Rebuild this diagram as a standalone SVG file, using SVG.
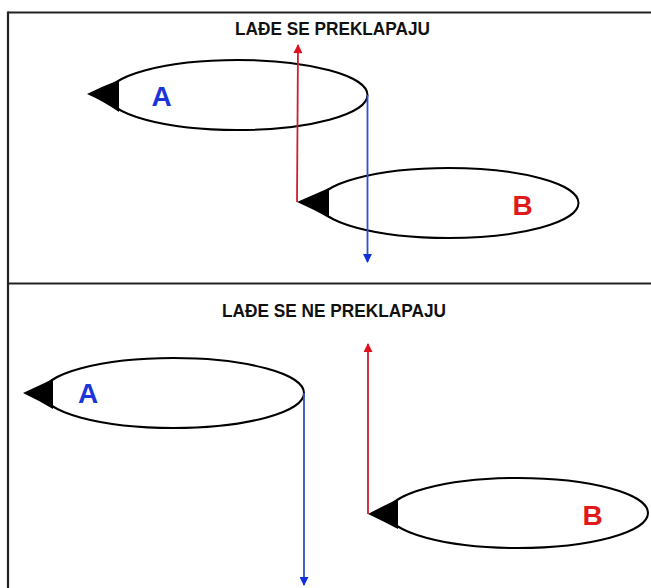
<svg xmlns="http://www.w3.org/2000/svg" width="651" height="588" viewBox="0 0 651 588">
<style>
.frame{stroke:#222;stroke-width:2.2;fill:none}
.hull{fill:#fff;stroke:#000;stroke-width:2}
.bow{fill:#000;stroke:none}
.title{font-family:"Liberation Sans",Arial,sans-serif;font-weight:bold;font-size:18px;fill:#111;text-anchor:middle}
.lbl{font-family:"Liberation Sans",Arial,sans-serif;font-weight:bold;font-size:28px;text-anchor:middle}
.red{stroke:#cc2030;stroke-width:1.8;fill:none}
.blue{stroke:#3050d0;stroke-width:1.8;fill:none}
</style>
<defs>
<marker id="ah-red" viewBox="0 0 10 10" refX="9" refY="5" markerWidth="10" markerHeight="9" markerUnits="userSpaceOnUse" orient="auto"><path d="M0,0 L10,5 L0,10 Z" fill="#e01020"/></marker>
<marker id="ah-blue" viewBox="0 0 10 10" refX="9" refY="5" markerWidth="10" markerHeight="9" markerUnits="userSpaceOnUse" orient="auto"><path d="M0,0 L10,5 L0,10 Z" fill="#1030e0"/></marker>
</defs>
<rect width="651" height="588" fill="#fff"/>
<g id="frame">
<line class="frame" x1="8" y1="12.5" x2="651" y2="12.5"/>
<line class="frame" x1="8" y1="283.5" x2="651" y2="283.5"/>
<line class="frame" x1="8" y1="11.5" x2="8" y2="588"/>
</g>
<text class="title" x="332.5" y="35" textLength="195" lengthAdjust="spacingAndGlyphs">LAĐE SE PREKLAPAJU</text>
<text class="title" x="334" y="317" textLength="224" lengthAdjust="spacingAndGlyphs">LAĐE SE NE PREKLAPAJU</text>
<g id="shipA1">
<ellipse class="hull" cx="237.5" cy="95" rx="130" ry="35"/>
<path class="bow" d="M87,94 Q103,86 119,80 L119,112 Q103,101 87,94 Z"/>
<text class="lbl" x="161.5" y="106" fill="#1a35d8">A</text>
</g>
<g id="shipB1">
<ellipse class="hull" cx="448.5" cy="203" rx="130" ry="35"/>
<path class="bow" d="M297,202 Q313,195 329,188 L329,218 Q313,209 297,202 Z"/>
<text class="lbl" x="522.5" y="215" fill="#e01a1a">B</text>
</g>
<g id="shipA2">
<ellipse class="hull" cx="173.5" cy="393" rx="130.5" ry="35"/>
<path class="bow" d="M23,393 Q38,386 53,379 L53,409 Q38,400 23,393 Z"/>
<text class="lbl" x="88" y="403" fill="#1a35d8">A</text>
</g>
<g id="shipB2">
<ellipse class="hull" cx="518" cy="513" rx="130" ry="35"/>
<path class="bow" d="M368,514 Q383,506 398,499 L398,529 Q383,521 368,514 Z"/>
<text class="lbl" x="592.5" y="525" fill="#e01a1a">B</text>
</g>
<g id="connectors">
<line class="red" x1="297" y1="202" x2="298" y2="45" marker-end="url(#ah-red)"/>
<line class="blue" x1="367.5" y1="95" x2="367.5" y2="262" marker-end="url(#ah-blue)"/>
<line class="red" x1="368" y1="514" x2="368" y2="344" marker-end="url(#ah-red)"/>
<line class="blue" x1="304" y1="393" x2="304" y2="585" marker-end="url(#ah-blue)"/>
</g>
</svg>
